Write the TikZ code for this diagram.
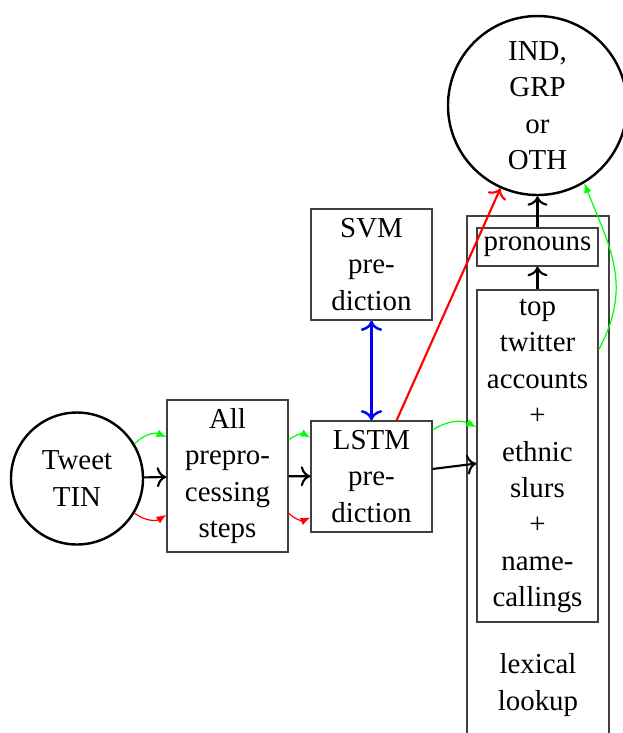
\documentclass[tikz,border=0pt]{standalone}
\usepackage{fontspec}
\setmainfont{Liberation Serif}
\usetikzlibrary{arrows.meta}
\tikzset{
  every node/.style={font=\fontsize{9.5pt}{12pt}\selectfont},
  pbox/.style={draw=black!75, line width=0.45pt, inner sep=0pt, align=center,
    minimum width={121*0.3289pt}},
  pcirc/.style={draw, circle, line width=0.8pt, inner sep=0pt, align=center},
  flow/.style={->, line width=0.7pt},
  gflow/.style={-{Latex[length=3.2pt,width=2.6pt]}, green, line width=0.4pt},
  rflow/.style={-{Latex[length=3.2pt,width=2.6pt]}, red, line width=0.4pt},
}
\begin{document}
\begin{tikzpicture}[x=0.3289pt, y=-0.3289pt]
\useasboundingbox (0,0) rectangle (623,733);
% nodes
\node[pcirc, minimum size={132*0.3289pt}] (tweet) at (77,478.5) {Tweet\\TIN};
\node[pbox, minimum height={152*0.3289pt}] (all) at (227.5,476) {All\\prepro-\\cessing\\steps};
\node[pbox, minimum height={111*0.3289pt}] (lstm) at (371.5,476.5) {LSTM\\pre-\\diction};
\node[pbox, minimum height={111*0.3289pt}] (svm) at (371.5,264.5) {SVM\\pre-\\diction};
\draw[draw=black!75, line width=0.45pt] (467,216) rectangle (609,770);
\node[pbox, minimum height={38*0.3289pt}] (pron) at (537.5,247) {pronouns};
\node[pbox, minimum height={332*0.3289pt}] (toptw) at (537.5,456) {top\\twitter\\accounts\\+\\ethnic\\slurs\\+\\name-\\callings};
\node[align=center] (lex) at (538,685) {lexical\\lookup};
\node[pcirc, minimum size={179*0.3289pt}] (ind) at (537.5,105.5) {IND,\\GRP\\or\\OTH};
% connectors
\draw[flow] (tweet) -- (all);
\draw[gflow] (tweet.31) to[bend left=35] ([yshift=12.8pt]all.west);
\draw[rflow] (tweet.-31) to[bend right=35] ([yshift=-12.8pt]all.west);
\draw[flow] (all) -- (lstm);
\draw[gflow] ([yshift=11.8pt]all.east) to[bend left=35] ([yshift=12.8pt]lstm.west);
\draw[rflow] ([yshift=-12.2pt]all.east) to[bend right=35] ([yshift=-13.5pt]lstm.west);
\draw[flow] (lstm) -- (toptw);
\draw[gflow] ([yshift=15.3pt]lstm.east) to[bend left=30] ([yshift=9.5pt]toptw.west);
\draw[<->, blue, line width=0.8pt] (svm) -- (lstm);
\draw[->, red, line width=0.7pt] (lstm) -- (ind);
\draw[flow] (toptw) -- (pron);
\draw[flow] (pron) -- (ind);
\draw[gflow] ([yshift=34.9pt]toptw.east) to[out=62,in=-68, looseness=1.1] (ind.-59);
\end{tikzpicture}
\end{document}
